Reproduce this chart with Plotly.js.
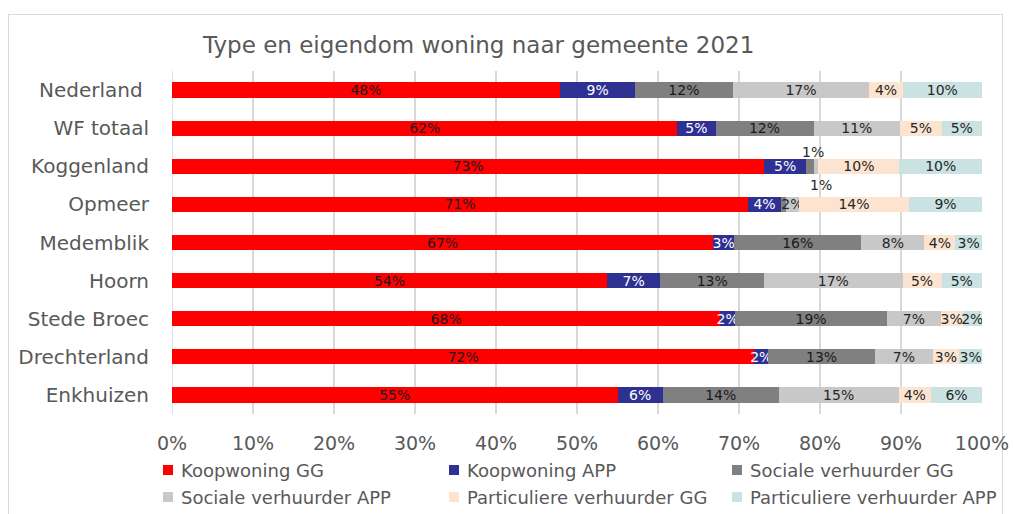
<!DOCTYPE html>
<html><head><meta charset="utf-8">
<script src="https://cdn.plot.ly/plotly-3.0.1.min.js"></script>
<style>
html,body{margin:0;padding:0;background:#fff;}
#frame{position:absolute;left:8px;top:14px;width:995px;height:520px;border:1px solid #d9d9d9;box-sizing:border-box;}
#chart{position:absolute;left:0;top:0;width:1013px;height:514px;}
</style></head>
<body><div id="frame"></div><div id="chart"></div>
<script>
const categories = ['Nederland\u00a0','WF totaal','Koggenland','Opmeer','Medemblik','Hoorn','Stede Broec','Drechterland','Enkhuizen'];
const koopGG   = [47.9, 62.4, 73.1, 71.1, 66.8, 53.7, 67.7, 71.9, 55.0];
const koopAPP  = [ 9.3,  4.7,  5.2,  4.1,  2.6,  6.6,  1.8,  1.7,  5.6];
const socGG    = [12.0, 12.1,  0.9,  0.6, 15.7, 12.8, 18.8, 13.2, 14.3];
const socAPP   = [16.9, 10.7,  0.6,  1.6,  7.8, 17.1,  6.6,  7.1, 14.8];
const partGG   = [ 4.1,  5.1, 10.0, 13.6,  3.8,  4.8,  2.7,  3.3,  4.0];
const partAPP  = [ 9.8,  5.0, 10.2,  9.0,  3.3,  5.0,  2.4,  2.8,  6.3];
const seriesNames = ['Koopwoning GG','Koopwoning APP','Sociale verhuurder GG','Sociale verhuurder APP','Particuliere verhuurder GG','Particuliere verhuurder APP'];
const xTicks = [0,10,20,30,40,50,60,70,80,90,100];

const seriesVals = [koopGG, koopAPP, socGG, socAPP, partGG, partAPP];
const colors = ['#FF0000','#2E3192','#808080','#C8C8C8','#FCE4D0','#CAE3E2'];
const textColors = ['#1a1a1a','#ffffff','#1a1a1a','#262626','#262626','#262626'];
const FONT = '"DejaVu Sans", sans-serif';

const traces = seriesVals.map((vals, i) => ({
  type: 'bar', orientation: 'h',
  name: seriesNames[i],
  y: categories, x: vals,
  marker: {color: colors[i], line: {width: 0}},
  text: vals.map(v => v >= 1 ? Math.round(v) + '%' : ''),
  textposition: 'inside', insidetextanchor: 'middle', textangle: 0,
  textfont: {family: FONT, size: 14, color: textColors[i]},
  hoverinfo: 'name+x', showlegend: false
}));

const smallLabelPos = {'Koggenland': [79.1, 14], 'Opmeer': [80.1, 19]};
const annotations = [];
const shapes = [{type: 'line', xref: 'x', yref: 'paper', x0: 0, x1: 0, y0: 0, y1: 1,
                 line: {color: '#d9d9d9', width: 1.5}, layer: 'below'}];
categories.forEach((c, k) => {
  if (socGG[k] < 1 && smallLabelPos[c]) {
    annotations.push({x: smallLabelPos[c][0], y: c, xref: 'x', yref: 'y', yshift: smallLabelPos[c][1],
      text: Math.round(socGG[k]) + '%', showarrow: false,
      font: {family: FONT, size: 14, color: '#262626'}});
  }
});

// legend drawn as 3 columns x 2 rows (plot area: x 172..982 px, y 71..414 px)
const PL = 172, PW = 810, PB = 414, PH = 343;
const px2x = p => (p - PL) / PW, px2y = p => (PB - p) / PH;
const colX = [163, 449, 732], rowY = [470, 497];
seriesNames.forEach((n, i) => {
  const cx = colX[i % 3], cy = rowY[Math.floor(i / 3)];
  shapes.push({type: 'rect', xref: 'paper', yref: 'paper',
    x0: px2x(cx), x1: px2x(cx + 10), y0: px2y(cy + 5), y1: px2y(cy - 5),
    fillcolor: colors[i], line: {width: 0}});
  annotations.push({xref: 'paper', yref: 'paper', x: px2x(cx + 16), y: px2y(cy),
    xanchor: 'left', yanchor: 'middle', showarrow: false, text: n,
    font: {family: FONT, size: 18, color: '#595959'}});
});

const layout = {
  width: 1013, height: 514,
  margin: {l: 172, r: 31, t: 71, b: 100},
  paper_bgcolor: 'rgba(0,0,0,0)', plot_bgcolor: 'rgba(0,0,0,0)',
  barmode: 'stack', bargap: 0.6,
  font: {family: FONT, color: '#595959'},
  title: {text: 'Type en eigendom woning naar gemeente 2021', x: 203/1013, xanchor: 'left', xref: 'container',
          y: 1 - 45/514, yanchor: 'middle', yref: 'container',
          font: {family: FONT, size: 23, color: '#595959'}},
  xaxis: {range: [0, 100], tickvals: xTicks, ticktext: xTicks.map(v => v + '%'),
          showgrid: true, gridcolor: '#d9d9d9', gridwidth: 1.5, zeroline: false,
          showline: false, ticks: 'outside', ticklen: 12, tickcolor: 'rgba(0,0,0,0)',
          tickfont: {family: FONT, size: 19, color: '#595959'}, fixedrange: true},
  yaxis: {autorange: 'reversed', showgrid: false, zeroline: false, showline: false,
          ticks: 'outside', ticklen: 18, tickcolor: 'rgba(0,0,0,0)',
          tickfont: {family: FONT, size: 20, color: '#595959'}, fixedrange: true},
  shapes: shapes,
  uniformtext: {mode: 'show', minsize: 14},
  annotations: annotations,
  showlegend: false
};

Plotly.newPlot('chart', traces, layout, {displayModeBar: false, responsive: false});
</script>
</body></html>
